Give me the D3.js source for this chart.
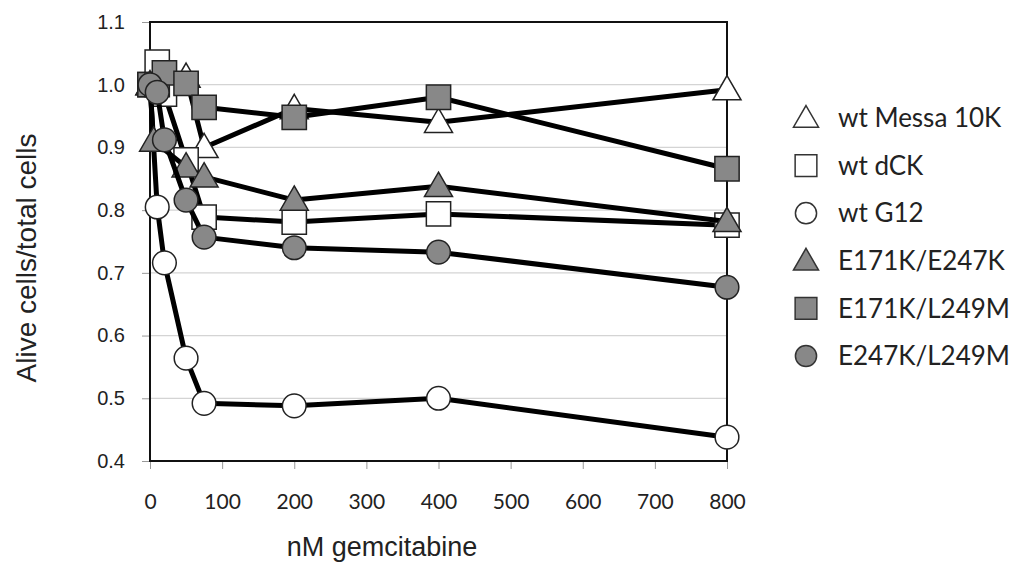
<!DOCTYPE html>
<html>
<head>
<meta charset="utf-8">
<script src="https://cdn.jsdelivr.net/npm/d3@7"></script>
<style>
  body { margin: 0; background: #fff; }
  svg { display: block; }
</style>
</head>
<body>
<div id="chart"></div>
<script>
// gemcitabine dose (nM) per series
var doses = [0, 10, 20, 50, 75, 200, 400, 800];
var dosesE171KE247K = [0, 5, 50, 75, 200, 400, 800];

var seriesNames = ['wt Messa 10K', 'wt dCK', 'wt G12', 'E171K/E247K', 'E171K/L249M', 'E247K/L249M'];
var seriesShapes = ['triangle', 'square', 'circle', 'triangle', 'square', 'circle'];
var seriesFills = ['#ffffff', '#ffffff', '#ffffff', '#888888', '#888888', '#888888'];

var wtMessa = [1.0, 1.0, 1.0, 1.012, 0.90, 0.962, 0.94, 0.992];
var wtDCK = [1.0, 1.036, 0.985, 0.88, 0.789, 0.781, 0.794, 0.776];
var wtG12 = [1.0, 0.805, 0.716, 0.564, 0.492, 0.488, 0.50, 0.438];
var e171kE247k = [1.0, 0.91, 0.869, 0.853, 0.816, 0.838, 0.782];
var e171kL249m = [1.0, 1.0, 1.019, 1.002, 0.964, 0.948, 0.980, 0.866];
var e247kL249m = [1.0, 0.988, 0.912, 0.816, 0.757, 0.740, 0.733, 0.677];

var xTicks = [0, 100, 200, 300, 400, 500, 600, 700, 800];
var yTicks = [0.4, 0.5, 0.6, 0.7, 0.8, 0.9, 1.0, 1.1];

var seriesX = [doses, doses, doses, dosesE171KE247K, doses, doses];
var seriesY = [wtMessa, wtDCK, wtG12, e171kE247k, e171kL249m, e247kL249m];

var width = 1016;
var height = 565;

var svg = d3.select('#chart')
    .append('svg')
    .attr('width', width)
    .attr('height', height);

var x = d3.scaleLinear().domain([0, 800]).range([150, 727]);
var y = d3.scaleLinear().domain([0.4, 1.1]).range([461, 22]);

// grid lines
svg.append('g')
    .selectAll('line')
    .data(yTicks.filter(function (d) { return d > 0.4 && d < 1.1; }))
    .enter()
    .append('line')
    .attr('x1', x(0))
    .attr('x2', x(800))
    .attr('y1', function (d) { return y(d); })
    .attr('y2', function (d) { return y(d); })
    .attr('stroke', '#d4d4d4')
    .attr('stroke-width', 1.2);

// axes
var yAxis = d3.axisLeft(y).tickValues(yTicks).tickSize(8).tickFormat(d3.format('.1f'));
var xAxis = d3.axisBottom(x).tickValues(xTicks).tickSize(8);

var gy = svg.append('g')
    .attr('transform', 'translate(' + x(0) + ',0)')
    .call(yAxis);
gy.select('.domain').remove();
gy.selectAll('line').attr('stroke', '#999');
gy.selectAll('text')
    .attr('x', -25)
    .attr('font-family', 'Liberation Sans, Arial, sans-serif')
    .attr('font-size', 20)
    .attr('fill', '#222');

var gx = svg.append('g')
    .attr('transform', 'translate(0,' + y(0.4) + ')')
    .call(xAxis);
gx.select('.domain').remove();
gx.selectAll('line').attr('stroke', '#999');
gx.selectAll('text')
    .attr('y', 33)
    .attr('font-family', 'Lato, sans-serif')
    .attr('font-size', 21)
    .attr('fill', '#222');

// plot frame
svg.append('rect')
    .attr('x', x(0))
    .attr('y', y(1.1))
    .attr('width', x(800) - x(0))
    .attr('height', y(0.4) - y(1.1))
    .attr('fill', 'none')
    .attr('stroke', '#111')
    .attr('stroke-width', 2);

var symbolTypes = { triangle: d3.symbolTriangle, square: d3.symbolSquare, circle: d3.symbolCircle };
var symbolSizes = { triangle: 340, square: 590, circle: 440 };

function markerPath(shape, scale) {
    return d3.symbol().type(symbolTypes[shape]).size(symbolSizes[shape] * (scale || 1))();
}

var line = d3.line();

seriesNames.forEach(function (name, i) {
    var pts = seriesX[i].map(function (d, j) { return [x(d), y(seriesY[i][j])]; });
    var g = svg.append('g');
    g.append('path')
        .attr('d', line(pts))
        .attr('fill', 'none')
        .attr('stroke', '#000')
        .attr('stroke-width', 5)
        .attr('stroke-linejoin', 'round');
    g.selectAll('path.m')
        .data(pts)
        .enter()
        .append('path')
        .attr('class', 'm')
        .attr('d', markerPath(seriesShapes[i]))
        .attr('transform', function (d) {
            var dy = seriesShapes[i] === 'triangle' ? 2 : 0;
            return 'translate(' + d[0] + ',' + (d[1] + dy) + ')';
        })
        .attr('fill', seriesFills[i])
        .attr('stroke', '#222')
        .attr('stroke-width', 1.5);
});

// legend
var legend = svg.append('g')
    .selectAll('g')
    .data(seriesNames)
    .enter()
    .append('g')
    .attr('transform', function (d, i) { return 'translate(806,' + (118 + i * 47.6) + ')'; });

legend.append('path')
    .attr('d', function (d, i) { return markerPath(seriesShapes[i], 0.8); })
    .attr('transform', function (d, i) { return seriesShapes[i] === 'triangle' ? 'translate(0,2)' : null; })
    .attr('fill', function (d, i) { return seriesFills[i]; })
    .attr('stroke', '#333')
    .attr('stroke-width', 1.5);

legend.append('text')
    .attr('x', 32)
    .attr('dy', '0.35em')
    .attr('font-family', 'Lato, sans-serif')
    .attr('font-size', 26)
    .attr('fill', '#222')
    .text(function (d) { return d; });

// axis titles
svg.append('text')
    .attr('x', 382)
    .attr('y', 556)
    .attr('text-anchor', 'middle')
    .attr('font-family', 'Liberation Sans, Arial, sans-serif')
    .attr('font-size', 27)
    .attr('fill', '#222')
    .text('nM gemcitabine');

svg.append('text')
    .attr('transform', 'translate(36,258) rotate(-90)')
    .attr('text-anchor', 'middle')
    .attr('font-family', 'Liberation Sans, Arial, sans-serif')
    .attr('font-size', 28)
    .attr('fill', '#222')
    .text('Alive cells/total cells');
</script>
</body>
</html>
